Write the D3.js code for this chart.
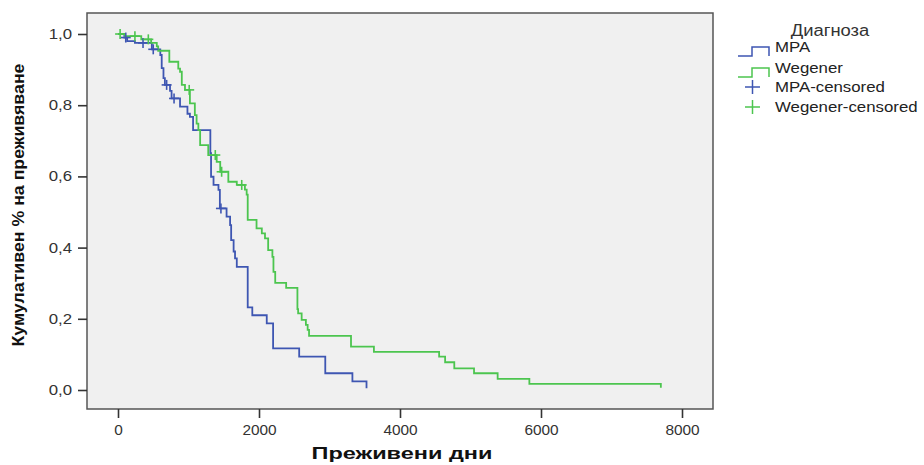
<!DOCTYPE html>
<html>
<head>
<meta charset="utf-8">
<script src="https://cdn.jsdelivr.net/npm/d3@7"></script>
<style>
  body { margin: 0; background: #fff; }
  text { font-family: "Liberation Sans", Arial, sans-serif; }
</style>
</head>
<body>
<script>
// Kaplan-Meier steps (day, cumulative survival after the step)
var mpaDays = [0, 90, 130, 240, 480, 600, 620, 645, 665, 738, 760, 880, 985, 1020, 1065, 1310, 1320, 1355, 1425, 1445,
               1540, 1590, 1605, 1640, 1660, 1685, 1840, 1905, 2110, 2200, 2570, 2940, 3325, 3525];
var mpaSurv = [1.0, 0.99, 0.98, 0.975, 0.957, 0.941, 0.904, 0.876, 0.857, 0.84, 0.819, 0.796, 0.776, 0.767, 0.73, 0.665, 0.599, 0.576, 0.562, 0.51,
               0.487, 0.463, 0.421, 0.389, 0.37, 0.346, 0.232, 0.21, 0.187, 0.117, 0.094, 0.047, 0.024, 0.005];

var wegDays = [0, 100, 330, 470, 550, 570, 728, 855, 880, 905, 950, 1020, 1090, 1115, 1140, 1165, 1280, 1400, 1450, 1565,
               1685, 1800, 1825, 1840, 1965, 2040, 2085, 2130, 2190, 2205, 2230, 2385, 2545, 2555, 2605, 2665, 2690, 2710, 3305, 3630,
               4555, 4640, 4770, 5050, 5385, 5835, 7700];
var wegSurv = [1.0, 0.994, 0.985, 0.975, 0.965, 0.953, 0.922, 0.903, 0.894, 0.857, 0.843, 0.805, 0.772, 0.748, 0.73, 0.688, 0.66, 0.641, 0.613, 0.585,
               0.576, 0.563, 0.549, 0.478, 0.454, 0.44, 0.426, 0.393, 0.374, 0.332, 0.301, 0.287, 0.227, 0.215, 0.197, 0.183, 0.169, 0.152, 0.122, 0.107,
               0.094, 0.078, 0.061, 0.047, 0.031, 0.017, 0.006];

// censored cases (day only, the level comes from the curve)
var mpaCensored = [110, 355, 500, 690, 795, 1460];
var wegCensored = [30, 240, 430, 1010, 1380, 1470, 1755];

var xTicks = [0, 2000, 4000, 6000, 8000];
var yTicks = [0, 0.2, 0.4, 0.6, 0.8, 1.0];
var legendLabels = ["MPA", "Wegener", "MPA-censored", "Wegener-censored"];

var width = 924,
    height = 465,
    frameLeft = 87,
    frameRight = 713,
    frameTop = 13,
    frameBottom = 409;

var blue = "#3e56b2",
    green = "#4cc54f";

var svg = d3.select("body").append("svg")
    .attr("width", width)
    .attr("height", height);

var x = d3.scaleLinear().domain([0, 8000]).range([118, 682]);
var y = d3.scaleLinear().domain([0, 1]).range([390, 34]);

// stretch text horizontally like the picture does
function stretch(sel, k) {
  sel.each(function() {
    var w = this.getComputedTextLength();
    d3.select(this).attr("textLength", w * k).attr("lengthAdjust", "spacingAndGlyphs");
  });
}

// plot area
svg.append("rect")
    .attr("x", frameLeft)
    .attr("y", frameTop)
    .attr("width", frameRight - frameLeft)
    .attr("height", frameBottom - frameTop)
    .attr("fill", "#f0f0f0")
    .attr("stroke", "#555")
    .attr("stroke-width", 1.5);

// axes
var xAxis = svg.append("g")
    .attr("transform", "translate(0," + frameBottom + ")")
    .call(d3.axisBottom(x).tickValues(xTicks).tickSize(9).tickPadding(7).tickFormat(d3.format("d")));
var yAxis = svg.append("g")
    .attr("transform", "translate(" + frameLeft + ",0)")
    .call(d3.axisLeft(y).tickValues(yTicks).tickSize(9).tickPadding(6)
      .tickFormat(function(d) { return d3.format(".1f")(d).replace(".", ","); }));

[xAxis, yAxis].forEach(function(a) {
  a.select(".domain").remove();
  a.selectAll(".tick line").attr("stroke", "#333").attr("stroke-width", 1.6);
  a.selectAll(".tick text")
      .attr("fill", "#333")
      .style("font-size", "14px");
});
stretch(xAxis.selectAll(".tick text"), 1.1);
stretch(yAxis.selectAll(".tick text"), 1.2);

// axis titles
svg.append("text")
    .attr("x", 402)
    .attr("y", 459)
    .attr("text-anchor", "middle")
    .attr("fill", "#111")
    .style("font-size", "17px")
    .style("font-weight", "bold")
    .attr("textLength", 181)
    .attr("lengthAdjust", "spacingAndGlyphs")
    .text("Преживени дни");

svg.append("text")
    .attr("transform", "translate(24,205) rotate(-90)")
    .attr("text-anchor", "middle")
    .attr("fill", "#111")
    .style("font-size", "17px")
    .style("font-weight", "bold")
    .attr("textLength", 283)
    .attr("lengthAdjust", "spacingAndGlyphs")
    .text("Кумулативен % на преживяване");

// survival curves
var line = d3.line()
    .x(function(d) { return x(d[0]); })
    .y(function(d) { return y(d[1]); })
    .curve(d3.curveStepAfter);

function levelAt(days, surv, t) {
  var i = d3.bisectRight(days, t) - 1;
  return surv[Math.max(i, 0)];
}

var series = [
  { days: mpaDays, surv: mpaSurv, cens: mpaCensored, color: blue },
  { days: wegDays, surv: wegSurv, cens: wegCensored, color: green }
];

series.forEach(function(s) {
  svg.append("path")
      .datum(d3.zip(s.days, s.surv))
      .attr("d", line)
      .attr("fill", "none")
      .attr("stroke", s.color)
      .attr("stroke-width", 1.8);
});

series.forEach(function(s) {
  var marks = svg.selectAll(null)
      .data(s.cens)
      .enter()
      .append("g")
      .attr("transform", function(t) {
        return "translate(" + x(t) + "," + y(levelAt(s.days, s.surv, t)) + ")";
      });
  marks.append("line").attr("x1", -5).attr("x2", 5).attr("y1", 0).attr("y2", 0)
      .attr("stroke", s.color).attr("stroke-width", 1.6);
  marks.append("line").attr("x1", 0).attr("x2", 0).attr("y1", -5).attr("y2", 5)
      .attr("stroke", s.color).attr("stroke-width", 1.6);
});

// legend
var legend = svg.append("g");
legend.append("text")
    .attr("x", 830)
    .attr("y", 36)
    .attr("text-anchor", "middle")
    .attr("fill", "#333")
    .style("font-size", "16px")
    .text("Диагноза")
    .call(stretch, 1.15);

var legendColors = [blue, green, blue, green];
var legendY = [47, 68, 87, 107];

legendLabels.forEach(function(lbl, i) {
  var cy = legendY[i];
  if (i < 2) {
    legend.append("path")
        .attr("d", "M738," + (cy + 9) + "H752V" + cy + "H769V" + (cy + 9))
        .attr("fill", "none")
        .attr("stroke", legendColors[i])
        .attr("stroke-width", 1.5);
  } else {
    legend.append("line").attr("x1", 745).attr("x2", 760).attr("y1", cy).attr("y2", cy)
        .attr("stroke", legendColors[i]).attr("stroke-width", 1.5);
    legend.append("line").attr("x1", 752.5).attr("x2", 752.5).attr("y1", cy - 7).attr("y2", cy + 7)
        .attr("stroke", legendColors[i]).attr("stroke-width", 1.5);
  }
  legend.append("text")
      .attr("x", 775)
      .attr("y", cy + 5)
      .attr("fill", "#222")
      .style("font-size", "14px")
      .text(lbl)
      .call(stretch, 1.2);
});
</script>
</body>
</html>
